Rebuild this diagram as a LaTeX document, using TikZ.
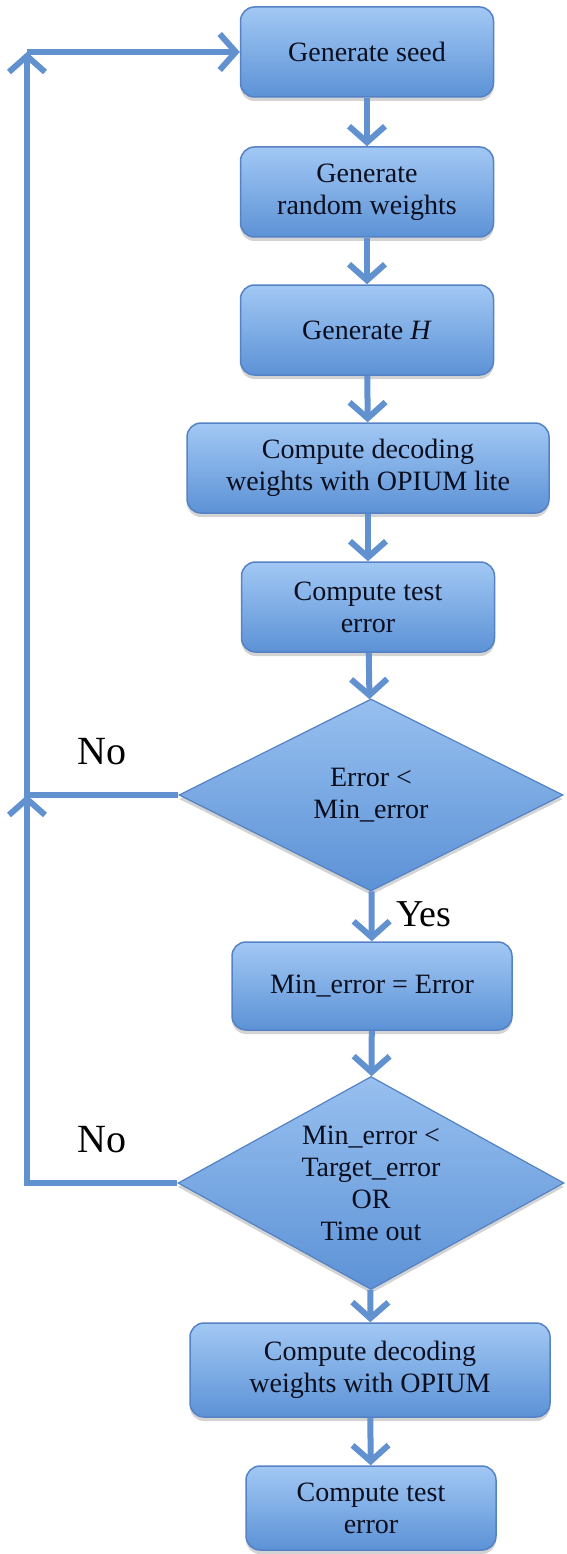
\documentclass[tikz,border=0pt]{standalone}
\usepackage{fontspec}
\setmainfont{Liberation Serif}
\usetikzlibrary{shapes.geometric,arrows.meta,shadows}
\definecolor{boxtop}{RGB}{162,200,244}
\definecolor{boxbot}{RGB}{92,146,214}
\definecolor{boxline}{RGB}{84,130,196}
\definecolor{arrc}{RGB}{98,145,208}
\definecolor{txt}{RGB}{10,14,30}
\begin{document}
\begin{tikzpicture}[x=1pt,y=-1pt,
  every node/.style={font=\rmfamily\fontsize{28}{32}\selectfont, align=center, text=txt},
  box/.style={rectangle, rounded corners=14pt, draw=boxline, line width=1.5pt,
    top color=boxtop, bottom color=boxbot, inner sep=0pt,
    drop shadow={shadow xshift=0pt, shadow yshift=-4pt, opacity=0.35}},
  dec/.style={diamond, draw=boxline, line width=1.2pt,
    top color=boxtop!85!boxbot, bottom color=boxbot, inner sep=0pt,
    drop shadow={shadow xshift=0pt, shadow yshift=-4pt, opacity=0.35}},
  arr/.style={draw=arrc, line width=6pt, -{Straight Barb[length=16pt,width=36pt]}},
  lbl/.style={font=\rmfamily\fontsize{40}{40}\selectfont, text=black}
]
\useasboundingbox (0,0) rectangle (567,1554);
\node[box, minimum width=253pt, minimum height=90pt] (b1) at (367,52) {Generate seed};
\node[box, minimum width=253pt, minimum height=90pt] (b2) at (367,192) {Generate\\random weights};
\node[box, minimum width=253pt, minimum height=90pt] (b3) at (367,330) {Generate \textit{H}};
\node[box, minimum width=362pt, minimum height=90pt] (b4) at (368,468) {Compute decoding\\weights with OPIUM lite};
\node[box, minimum width=253pt, minimum height=90pt] (b5) at (368,607) {Compute test\\error};
\node[dec, minimum width=384pt, minimum height=192pt,
  label={[align=center]center:Error <\\Min\_error}] (d1) at (371,795) {};
\node[box, minimum width=280pt, minimum height=88pt] (b6) at (372,986) {Min\_error = Error};
\node[dec, minimum width=386pt, minimum height=213pt,
  label={[align=center]center:Min\_error <\\Target\_error\\OR\\Time out}] (d2) at (371,1183) {};
\node[box, minimum width=360pt, minimum height=94pt] (b7) at (370,1370) {Compute decoding\\weights with OPIUM};
\node[box, minimum width=250pt, minimum height=84pt] (b8) at (371,1508) {Compute test\\error};

\coordinate (c1) at (27,795);
\coordinate (c2) at (27,52);
\coordinate (c3) at (27,1183);

\draw[arr] (b1) -- (b2);
\draw[arr] (b2) -- (b3);
\draw[arr] (b3) -- (b4);
\draw[arr] (b4) -- (b5);
\draw[arr] (b5) -- (d1);
\draw[arr] (d1) -- (b6);
\draw[arr] (b6) -- (d2);
\draw[arr] (d2) -- (b7);
\draw[arr] (b7) -- (b8);

\draw[arr] (d1.west) -- (c1) -- (c2);
\draw[arr] (c2) -- (b1.west);
\draw[arr] (d2.west) -- (c3) -- (c1);

\node[lbl] (no1) at (102,752) {No};
\node[lbl] (no2) at (102,1140) {No};
\node[lbl, font=\rmfamily\fontsize{38}{38}\selectfont] (yes) at (424,914) {Yes};
\end{tikzpicture}
\end{document}
